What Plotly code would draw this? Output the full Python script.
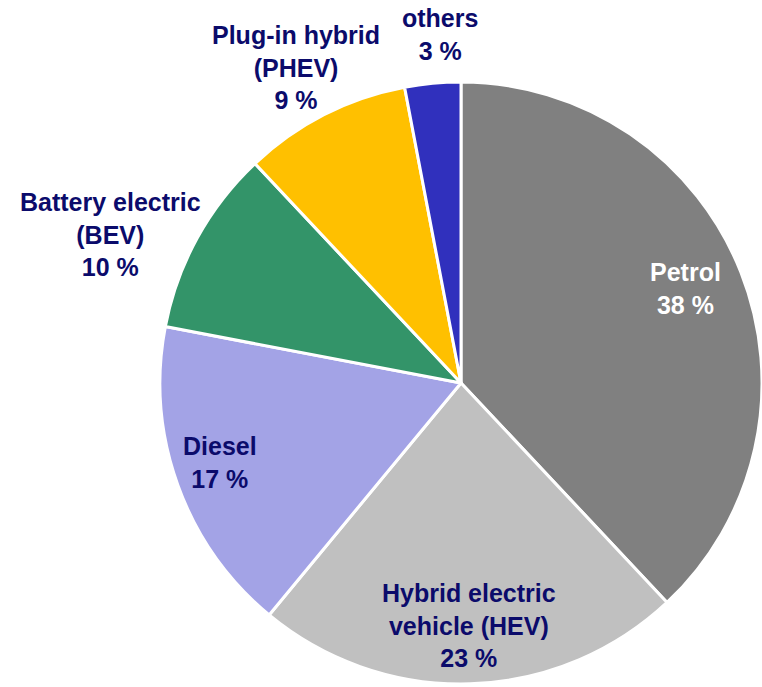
import plotly.graph_objects as go

categories = ["Petrol", "Hybrid electric vehicle (HEV)", "Diesel", "Battery electric (BEV)", "Plug-in hybrid (PHEV)", "others"]
label_lines = ["Petrol", "Hybrid electric<br>vehicle (HEV)", "Diesel", "Battery electric<br>(BEV)", "Plug-in hybrid<br>(PHEV)", "others"]
shares = [38, 23, 17, 10, 9, 3]

colors = ["#808080", "#C0C0C0", "#A3A3E6", "#339469", "#FFC000", "#3030BD"]
text_colors = ["#FFFFFF", "#0B0B6B", "#0B0B6B", "#0B0B6B", "#0B0B6B", "#0B0B6B"]
# label centres in screen pixels (x from left, y from top)
label_pos = [(685, 288), (469, 625), (220, 462), (110, 235), (296, 68), (440, 34)]

W, H = 762, 687
fig = go.Figure(go.Pie(
    labels=categories, values=shares, sort=False, direction="clockwise",
    marker=dict(colors=colors, line=dict(color="white", width=3)),
    textinfo="none", hoverinfo="label+percent", showlegend=False,
    domain=dict(x=[160 / W, 762 / W], y=[(H - 684) / H, (H - 82) / H]),
))

for lbl, v, c, (px, py) in zip(label_lines, shares, text_colors, label_pos):
    fig.add_annotation(
        x=px / W, y=1 - py / H, xref="paper", yref="paper",
        text=f"{lbl}<br>{v} %", showarrow=False,
        xanchor="center", yanchor="middle", align="center", borderpad=0,
        font=dict(family="Liberation Sans, Arial", size=25, color=c, weight="bold"),
    )

fig.update_layout(
    width=W, height=H, margin=dict(l=0, r=0, t=0, b=0),
    paper_bgcolor="white", plot_bgcolor="white",
)
fig.write_html("out.html", config={"displayModeBar": False},
               post_script="document.body.style.margin='0px';")
